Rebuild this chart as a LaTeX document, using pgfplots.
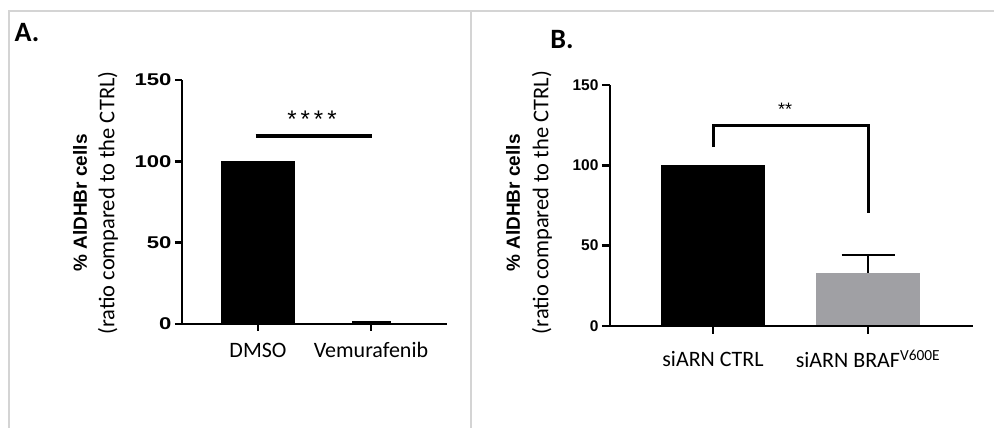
\documentclass[border=0pt]{standalone}
\usepackage{pgfplots}
\pgfplotsset{compat=1.18}
\usepackage{fontspec}
\setmainfont{Carlito}
\newfontfamily\arial{Liberation Sans}
\definecolor{framegray}{HTML}{D4D4D4}
\definecolor{bargray}{HTML}{A0A0A4}
\newcommand{\fs}[1]{\fontsize{#1}{#1}\selectfont}

\begin{document}
\begin{tikzpicture}[x=1pt,y=1pt]
\useasboundingbox (0pt,0pt) rectangle (994pt,428pt);
\draw[framegray, line width=2pt] (9pt,0pt) -- (9pt,416.5pt) -- (994pt,416.5pt);
\draw[framegray, line width=2pt] (471pt,0pt) -- (471pt,416.5pt);
\node[font=\bfseries\fs{28}] at (27pt,395pt) {A.};
\node[font=\bfseries\fs{28}] at (562pt,388pt) {B.};

\pgfplotsset{mystyle/.style={
  scale only axis, anchor=origin,
  axis x line=bottom, axis y line=left,
  axis line style={line width=2.6pt, -},
  tick align=outside, major tick length=7pt,
  tick style={line width=2.6pt, black},
  ymin=0, ymax=150, ytick={0,50,100,150},
  xtick={0,1},
  /pgf/number format/assume math mode=true,
  xticklabel style={font=\fs{22}, anchor=center, yshift=-19pt},
  axis on top,
  clip=false,
}}

% Panel A
\node[rotate=90, font=\arial\bfseries\fs{19}] at (80pt,225pt) {\% AlDHBr cells};
\node[rotate=90, font=\fs{22.5}] at (108pt,225pt) {(ratio compared to the CTRL)};
\begin{axis}[mystyle, at={(258pt,104pt)}, width=265pt, height=244pt,
  xmin=-0.673, xmax=1.673,
  yticklabel style={font=\arial\bfseries\fs{17}},
  yticklabel={\scalebox{1.3}[1]{\pgfmathprintnumber{\tick}}},
  xticklabels={DMSO, Vemurafenib}]
\addplot[ybar, bar shift=0pt, fill=black, draw=black, bar width=73pt] coordinates {(0,100)};
\addplot[ybar, bar shift=0pt, fill=black, draw=black, bar width=38pt] coordinates {(1,1.5)};
\draw[line width=3.5pt] (axis cs:-0.02,115.5) -- (axis cs:1.01,115.5);
\node[font=\arial\fs{24}] at (axis cs:0.478,126) {*\,*\,*\,*};
\end{axis}

% Panel B
\node[rotate=90, font=\arial\bfseries\fs{19}] at (513pt,225pt) {\% AlDHBr cells};
\node[rotate=90, font=\fs{22.5}] at (542pt,225.5pt) {(ratio compared to the CTRL)};
\begin{axis}[mystyle, at={(713pt,102pt)}, width=363pt, height=241pt,
  xmin=-0.665, xmax=1.677,
  major tick length=8pt,
  yticklabel style={font=\arial\bfseries\fs{15.5}},
  xticklabel style={yshift=-6pt},
  xticklabels={siARN CTRL, siARN BRAF\textsuperscript{V600E}}]
\addplot[ybar, bar shift=0pt, fill=black, draw=black, bar width=103pt] coordinates {(0,100)};
\addplot[ybar, bar shift=0pt, fill=bargray, draw=bargray, bar width=103pt,
  error bars/.cd, y dir=plus, y explicit,
  error bar style={line width=2.6pt, black},
  error mark options={rotate=90, line width=2.6pt, black, mark size=26.5pt}]
  coordinates {(1,33) +- (0,11.2)};
\draw[line width=3pt] (axis cs:0,111.4) -- (axis cs:0,125) -- (axis cs:1,125) -- (axis cs:1,70.3);
\node[font=\arial\fs{18}] at (axis cs:0.465,135) {**};
\end{axis}
\end{tikzpicture}
\end{document}
